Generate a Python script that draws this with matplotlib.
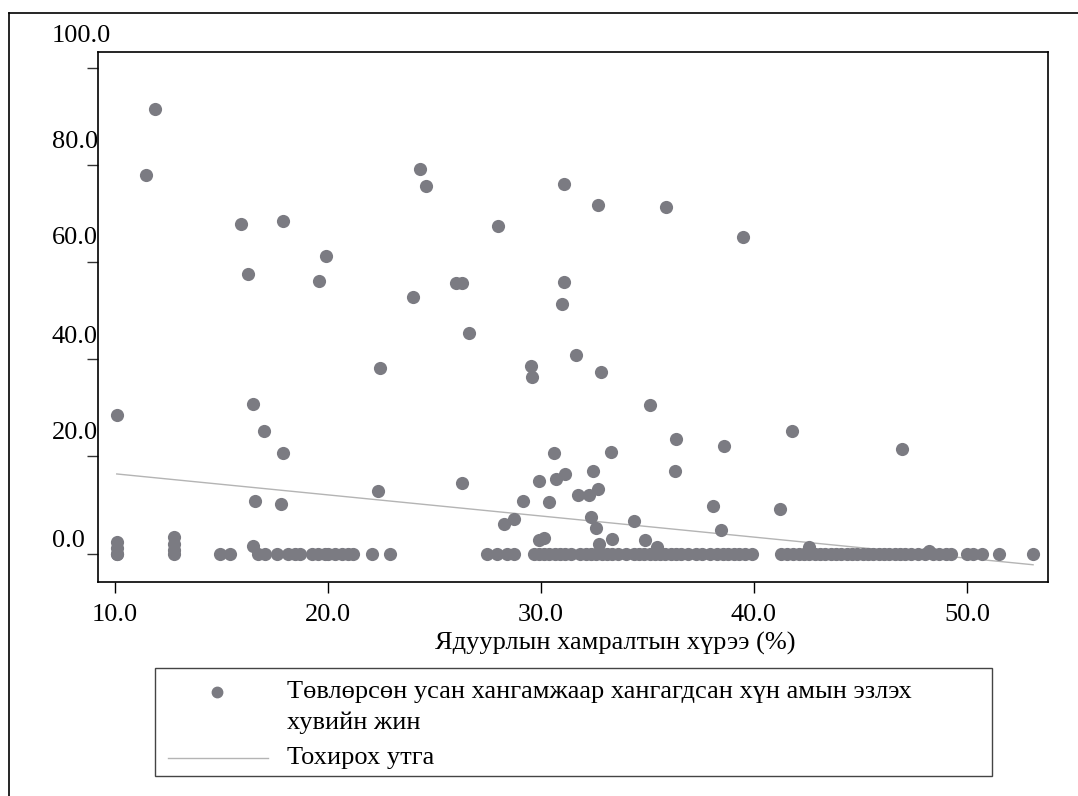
import matplotlib
matplotlib.use("Agg")
import matplotlib.pyplot as plt
import matplotlib.transforms as mtransforms
from matplotlib.lines import Line2D
from matplotlib.patches import Rectangle

plt.rcParams['font.family'] = ['Liberation Serif', 'DejaVu Serif']

# poverty headcount (%) and share of population with piped water (%)
pov_upper = [11.88, 11.46, 10.1, 15.95, 17.9, 19.92, 16.28, 19.57, 24.0, 24.35,
             24.6, 16.5, 17.0, 17.9, 22.45, 16.6, 17.8, 22.35, 31.1, 32.69,
             35.87, 39.49, 27.99, 26.01, 26.3, 31.1, 31.0, 26.62, 31.65, 29.55,
             29.58, 32.84, 35.1, 36.35, 38.6, 30.63, 33.3, 36.28, 32.47, 26.3,
             31.13, 30.7, 29.9, 32.67, 31.74, 32.25, 29.16, 30.38, 38.07, 28.72,
             28.27, 32.37, 32.6, 34.38, 38.44, 29.9, 30.16, 33.35, 34.91, 32.75,
             35.46, 41.78, 46.93, 41.22, 42.6, 48.2, 10.1, 10.1, 12.8, 12.8,
             12.8, 16.5]
water_upper = [91.6, 78.0, 28.6, 67.9, 68.4, 61.3, 57.5, 56.2, 52.8, 79.2,
               75.7, 30.9, 25.3, 20.7, 38.2, 10.8, 10.2, 12.8, 76.1, 71.7,
               71.4, 65.2, 67.4, 55.8, 55.8, 55.9, 51.3, 45.4, 40.8, 38.6,
               36.3, 37.5, 30.7, 23.6, 22.1, 20.8, 21.0, 17.0, 17.1, 14.6,
               16.4, 15.3, 14.9, 13.3, 12.0, 12.1, 10.8, 10.7, 9.9, 7.1,
               6.1, 7.6, 5.3, 6.7, 4.9, 2.9, 3.2, 3.0, 2.8, 1.9,
               1.4, 25.2, 21.6, 9.2, 1.3, 0.6, 2.3, 1.2, 3.4, 2.0,
               0.7, 1.6]

# areas with (almost) no piped water
pov_zero = [10.1, 10.1, 12.8, 14.93, 15.4, 16.73, 17.05, 17.6, 18.14, 18.46, 18.7,
            19.24, 19.56, 19.87, 20.03, 20.34, 20.66, 20.97, 21.2, 22.06, 22.93,
            27.47, 27.94, 28.41, 28.72,
            29.66, 29.9, 30.15, 30.4, 30.65, 30.9, 31.15, 31.4, 31.85, 32.1,
            32.35, 32.6, 32.85, 33.1, 33.35, 33.6, 34.0, 34.35, 34.6, 34.85,
            35.1, 35.35, 35.6, 35.85, 36.1, 36.35, 36.6, 36.9, 37.3, 37.55,
            37.95, 38.27, 38.55, 38.8, 39.05, 39.3, 39.6, 39.9,
            41.26, 41.55, 41.85, 42.1, 42.35, 42.6, 42.85, 43.1, 43.35, 43.6,
            43.85, 44.1, 44.35, 44.6, 44.85, 45.1, 45.35, 45.6, 45.85, 46.1,
            46.35, 46.6, 46.85, 47.1, 47.35, 47.7, 48.05, 48.4, 48.7, 49.0,
            49.25, 50.0, 50.3, 50.7, 51.5, 53.1]
water_zero = [0.0] * len(pov_zero)

# fitted values line
fit_x = [10.1, 53.1]
fit_y = [16.4, -2.3]

yticks = [0, 20, 40, 60, 80, 100]
xticks = [10, 20, 30, 40, 50]

leg_lines = ['Төвлөрсөн усан хангамжаар хангагдсан хүн амын эзлэх', 'хувийн жин']
fit_label = 'Тохирох утга'
xlabel = 'Ядуурлын хамралтын хүрээ (%)'

xs = pov_upper + pov_zero
ys = water_upper + water_zero

W, H = 1078, 796
FS = 19
fig = plt.figure(figsize=(W / 100, H / 100), dpi=100)
ax = fig.add_axes([98 / W, 1 - 582 / H, (1048 - 98) / W, (582 - 52) / H])

dot_col = '#7b7b82'
fit_col = '#b4b4b4'
ax.scatter(xs, ys, s=90, color=dot_col, linewidths=0, zorder=3)
ax.plot(fit_x, fit_y, color=fit_col, lw=1.0, zorder=2)

ax.set_xlim(9.22, 53.8)
ax.set_ylim(-5.85, 103.3)

for s in ax.spines.values():
    s.set_linewidth(1.2)
    s.set_color('black')

ax.set_xticks(xticks)
ax.set_xticklabels(['%.1f' % v for v in xticks], fontsize=FS)
ax.tick_params(axis='x', direction='out', length=8, width=1, pad=8)
ax.set_yticks(yticks)
ax.set_yticklabels([])
ax.tick_params(axis='y', direction='out', length=8, width=1, color='#333333')

# y labels: left aligned, sitting above their ticks
lift = [13, 23, 22, 24, 23, 32]
for v, d in zip(yticks, lift):
    tr = mtransforms.offset_copy(ax.get_yaxis_transform(), fig=fig, y=d, units='dots')
    ax.text(-(98 - 52) / (1048 - 98), v, '%.1f' % v, transform=tr,
            ha='left', va='center', fontsize=FS, clip_on=False)

fig.text(615 / W, 1 - 643 / H, xlabel, ha='center', va='center', fontsize=FS)

# legend box drawn by hand
fig.add_artist(Rectangle((155 / W, 1 - 776 / H), (992 - 155) / W, (776 - 668) / H,
                         transform=fig.transFigure, fill=False,
                         edgecolor='#444444', lw=1.0))
fig.add_artist(Line2D([217 / W], [1 - 692 / H], transform=fig.transFigure,
                      marker='o', ms=7.5, color=dot_col, mec=dot_col, ls='none'))
fig.add_artist(Line2D([168 / W, 268 / W], [1 - 758 / H, 1 - 758 / H],
                      transform=fig.transFigure, color=fit_col, lw=1.0))
fig.text(287 / W, 1 - 692 / H, leg_lines[0], ha='left', va='center', fontsize=FS)
fig.text(287 / W, 1 - 723 / H, leg_lines[1], ha='left', va='center', fontsize=FS)
fig.text(287 / W, 1 - 758 / H, fit_label, ha='left', va='center', fontsize=FS)

# outer frame (left and top)
fig.add_artist(Line2D([9 / W, 9 / W], [0, 1 - 12.5 / H], transform=fig.transFigure,
                      color='black', lw=1.2))
fig.add_artist(Line2D([9 / W, 1], [1 - 12.5 / H, 1 - 12.5 / H], transform=fig.transFigure,
                      color='black', lw=1.2))

fig.savefig('out.png', dpi=100)
